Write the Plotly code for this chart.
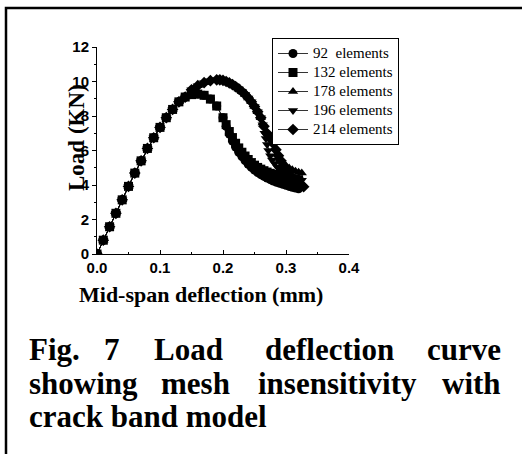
import plotly.graph_objects as go

# ---------------- data ----------------
series_names = ["92  elements", "132 elements", "178 elements", "196 elements", "214 elements"]
series_symbols = ["circle", "square", "triangle-up", "triangle-down", "diamond"]

rise_x = [0.0, 0.01, 0.02, 0.03, 0.04, 0.05, 0.06, 0.07, 0.08, 0.09, 0.10, 0.11, 0.12, 0.13, 0.14]
rise_y = [0.0, 0.8, 1.58, 2.36, 3.14, 3.92, 4.69, 5.4, 6.12, 6.74, 7.34, 7.9, 8.38, 8.82, 9.1]

# 92 elements
e92_x = rise_x + [0.15, 0.16, 0.17, 0.18, 0.19, 0.20, 0.205, 0.21, 0.215, 0.22, 0.225, 0.23, 0.235,
                  0.24, 0.245, 0.25, 0.255, 0.26, 0.265, 0.27, 0.275, 0.28, 0.285, 0.29, 0.295,
                  0.30, 0.305, 0.31, 0.315, 0.32]
e92_y = rise_y + [9.24, 9.27, 9.2, 8.98, 8.58, 7.9, 7.4, 6.95, 6.55, 6.2, 5.9, 5.65, 5.42,
                  5.2, 5.02, 4.86, 4.72, 4.6, 4.5, 4.4, 4.31, 4.23, 4.16, 4.1, 4.04,
                  3.98, 3.92, 3.87, 3.82, 3.78]

# 132 elements
e132_x = rise_x + [0.15, 0.16, 0.17, 0.18, 0.19, 0.20, 0.205, 0.21, 0.215, 0.22, 0.225, 0.23, 0.235,
                   0.24, 0.245, 0.25, 0.255, 0.26, 0.265, 0.27, 0.275, 0.28, 0.285, 0.29, 0.295,
                   0.30, 0.305, 0.31, 0.315, 0.32]
e132_y = rise_y + [9.24, 9.27, 9.2, 8.98, 8.58, 7.9, 7.5, 7.1, 6.75, 6.42, 6.15, 5.9, 5.68,
                   5.48, 5.3, 5.15, 5.02, 4.92, 4.83, 4.75, 4.68, 4.62, 4.57, 4.52, 4.48,
                   4.44, 4.4, 4.37, 4.34, 4.31]

peak_x = [0.15, 0.16, 0.17, 0.18, 0.19, 0.195, 0.20, 0.205, 0.21, 0.215, 0.22, 0.225, 0.23,
          0.235, 0.24, 0.245, 0.25, 0.255, 0.26]
peak_y = [9.52, 9.76, 9.93, 10.05, 10.1, 10.1, 10.06, 10.0, 9.92, 9.82, 9.7, 9.57, 9.42,
          9.25, 9.05, 8.82, 8.55, 8.25, 7.9]

# 178 elements
e178_x = rise_x + peak_x + [0.263, 0.278, 0.282, 0.286, 0.29, 0.295, 0.30, 0.305, 0.31, 0.315, 0.32, 0.325]
e178_y = rise_y + peak_y + [7.6, 6.45, 6.1, 5.8, 5.55, 5.3, 5.12, 4.98, 4.88, 4.8, 4.74, 4.7]

# 196 elements
e196_x = rise_x + peak_x + [0.263, 0.266, 0.268, 0.27, 0.272, 0.275, 0.278, 0.282, 0.286, 0.29,
                            0.295, 0.30, 0.305, 0.31, 0.315, 0.32, 0.325]
e196_y = rise_y + peak_y + [7.5, 7.0, 6.7, 6.35, 6.0, 5.7, 5.45, 5.25, 5.05, 4.9,
                            4.75, 4.63, 4.53, 4.45, 4.38, 4.32, 4.27]

# 214 elements
e214_x = rise_x + peak_x + [0.265, 0.27, 0.275, 0.28, 0.284, 0.288, 0.292, 0.296, 0.30, 0.305,
                            0.31, 0.315, 0.32, 0.325, 0.328]
e214_y = rise_y + peak_y + [7.4, 7.0, 6.7, 6.4, 6.05, 5.7, 5.4, 5.1, 4.85, 4.6,
                            4.4, 4.22, 4.08, 3.98, 3.9]

series_x = [e92_x, e132_x, e178_x, e196_x, e214_x]
series_y = [e92_y, e132_y, e178_y, e196_y, e214_y]

x_ticks = [0.0, 0.1, 0.2, 0.3, 0.4]
y_ticks = [0, 2, 4, 6, 8, 10, 12]

caption_lines = [
    ["Fig.", "7", "Load", "deflection", "curve"],
    ["showing", "mesh", "insensitivity", "with"],
    ["crack band model"],
]

# ---------------- layout geometry ----------------
W, H = 522, 454
PL, PR, PT, PB = 97, 349, 47, 254  # plot area in pixels


def px(xp):
    return (xp - PL) / (PR - PL)


def py(yp):
    return (PB - yp) / (PB - PT)


SERIF = "Liberation Serif, Times New Roman, serif"
SANS = "Liberation Sans, Arial, sans-serif"

fig = go.Figure()
# draw in reverse so that 92 elements sits on top
for i in reversed(range(5)):
    fig.add_trace(go.Scatter(
        x=series_x[i], y=series_y[i], mode="lines+markers",
        name='<span style="font-size:15px">' + series_names[i] + "</span>",
        line=dict(color="black", width=0.8),
        marker=dict(symbol=series_symbols[i], size=9, color="black", line=dict(width=0)),
    ))

annotations = []
# axis titles
annotations.append(dict(text="<b>Mid-span deflection (mm)</b>", x=px(201), y=py(294),
                        xref="paper", yref="paper", showarrow=False, xanchor="center", yanchor="middle",
                        font=dict(family=SERIF, size=22, color="black")))
annotations.append(dict(text="<b>Load (KN)</b>", x=px(76), y=py(138), textangle=-90,
                        xref="paper", yref="paper", showarrow=False, xanchor="center", yanchor="middle",
                        font=dict(family=SERIF, size=23, color="black")))

# caption words (justified)
cap_pos = [
    [(27, "left"), (112, "center"), (188, "center"), (329, "center"), (503, "right")],
    [(27, "left"), (195, "center"), (337, "center"), (503, "right")],
    [(27, "left")],
]
cap_y = [349, 383, 416]
for li, words in enumerate(caption_lines):
    for wi, w in enumerate(words):
        xp, anc = cap_pos[li][wi]
        annotations.append(dict(text="<b>" + w + "</b>", x=px(xp), y=py(cap_y[li]),
                                xref="paper", yref="paper", showarrow=False,
                                xanchor=anc, yanchor="middle",
                                font=dict(family=SERIF, size=31, color="black")))

shapes = [dict(type="path", xref="paper", yref="paper",
               path=f"M {px(6)} {py(460)} L {px(6)} {py(8)} L {px(530)} {py(8)}",
               line=dict(color="black", width=2.5))]

fig.update_layout(
    width=W, height=H,
    margin=dict(l=PL, r=W - PR, t=PT, b=H - PB),
    paper_bgcolor="white", plot_bgcolor="white",
    showlegend=True,
    legend=dict(x=px(272), y=py(38), xanchor="left", yanchor="top",
                bordercolor="black", borderwidth=1, bgcolor="white",
                font=dict(family=SERIF, size=12, color="black"),
                traceorder="reversed", itemwidth=30, tracegroupgap=0),
    annotations=annotations,
    shapes=shapes,
    xaxis=dict(range=[0, 0.4], tickvals=x_ticks, ticktext=[f"{v:.1f}" for v in x_ticks],
               showline=True, linecolor="black", linewidth=1, showgrid=False, zeroline=False,
               ticks="inside", ticklen=4, tickcolor="black",
               minor=dict(dtick=0.05, ticks="inside", ticklen=2, tickcolor="black"),
               tickfont=dict(family=SANS, size=15, color="black", weight="bold")),
    yaxis=dict(range=[0, 12], tickvals=y_ticks, ticktext=[str(v) for v in y_ticks],
               showline=True, linecolor="black", linewidth=1, showgrid=False, zeroline=False,
               ticks="outside", ticklen=4, tickcolor="black",
               minor=dict(dtick=1, ticks="outside", ticklen=2, tickcolor="black"),
               tickfont=dict(family=SANS, size=15, color="black", weight="bold")),
)

fig.write_html("out.html")
